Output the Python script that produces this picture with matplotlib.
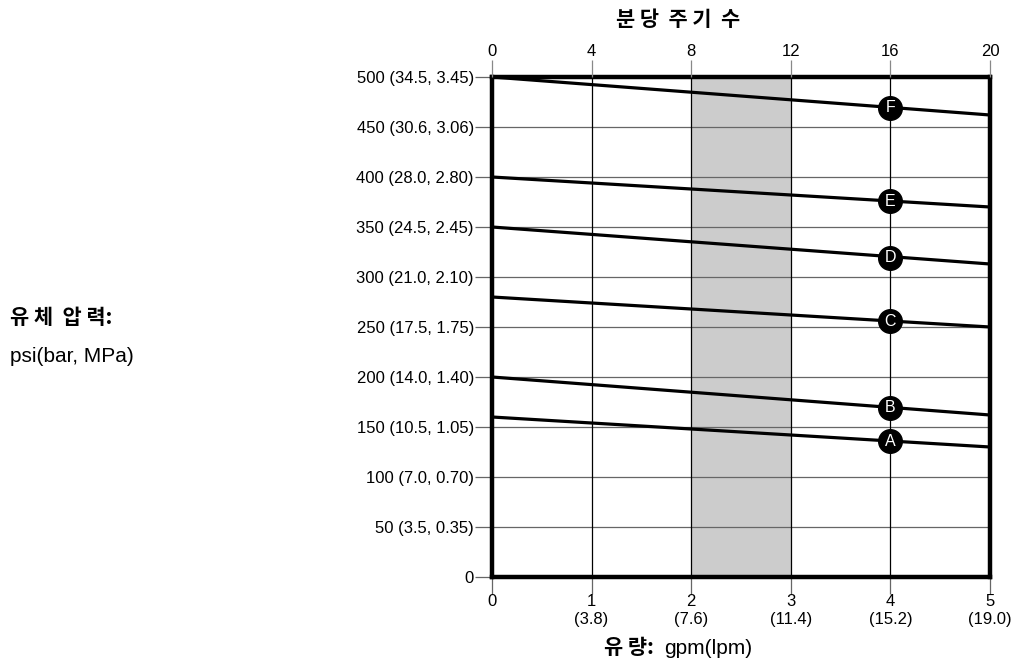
import matplotlib
matplotlib.use("Agg")
import matplotlib.pyplot as plt
import numpy as np

# Data
series_names = ["A", "B", "C", "D", "E", "F"]
line_x = [0, 5]
line_A = [160, 130]
line_B = [200, 162]
line_C = [280, 250]
line_D = [350, 313]
line_E = [400, 370]
line_F = [500, 462]
marker_x = 4
marker_y = [136, 169, 256, 319, 376, 469]

y_ticks = [0, 50, 100, 150, 200, 250, 300, 350, 400, 450, 500]
y_ticklabels = ["0", "50 (3.5, 0.35)", "100 (7.0, 0.70)", "150 (10.5, 1.05)",
                "200 (14.0, 1.40)", "250 (17.5, 1.75)", "300 (21.0, 2.10)",
                "350 (24.5, 2.45)", "400 (28.0, 2.80)", "450 (30.6, 3.06)",
                "500 (34.5, 3.45)"]
x_ticks = [0, 1, 2, 3, 4, 5]
x_ticklabels = ["0", "1\n(3.8)", "2\n(7.6)", "3\n(11.4)", "4\n(15.2)", "5\n(19.0)"]
top_ticklabels = ["0", "4", "8", "12", "16", "20"]
shade_range = [2, 3]

plt.rcParams['font.family'] = ['Liberation Sans', 'Noto Sans CJK KR', 'DejaVu Sans']
kfont = ['Noto Sans CJK KR', 'DejaVu Sans']

fig = plt.figure(figsize=(10.13, 6.68), dpi=100)
ax = fig.add_axes([492/1013, 1-577/668, (990-492)/1013, (577-77)/668])

ax.set_xlim(0, 5)
ax.set_ylim(0, 500)

ax.axvspan(shade_range[0], shade_range[1], color='#cccccc', zorder=0, lw=0)

for yv in y_ticks[1:-1]:
    ax.axhline(yv, color='#666666', lw=0.9, zorder=1)
for xv in x_ticks[1:-1]:
    ax.axvline(xv, color='black', lw=0.9, zorder=1)

lines = [line_A, line_B, line_C, line_D, line_E, line_F]
for name, ly, my in zip(series_names, lines, marker_y):
    ax.plot(line_x, ly, color='black', lw=2.3, zorder=3, solid_capstyle='butt')
    ax.plot([marker_x], [my], 'o', color='black', markersize=17, zorder=4)
    ax.text(marker_x, my, name, color='white', ha='center', va='center',
            fontsize=11.5, zorder=5)

for s in ax.spines.values():
    s.set_linewidth(3.2)
    s.set_color('black')

ax.set_yticks(y_ticks)
ax.set_yticklabels(y_ticklabels, fontsize=12)
ax.set_xticks(x_ticks)
ax.set_xticklabels(x_ticklabels, fontsize=12, linespacing=1.3)
ax.tick_params(axis='y', direction='out', length=12, width=0.9, color='#666666', pad=1)
ax.tick_params(axis='x', direction='out', length=12, width=0.9, color='#666666', pad=0)

ax2 = ax.twiny()
ax2.set_xlim(0, 5)
ax2.set_xticks(x_ticks)
ax2.set_xticklabels(top_ticklabels, fontsize=12)
ax2.tick_params(axis='x', direction='out', length=12, width=0.9, color='#888888', pad=1)
for s in ax2.spines.values():
    s.set_visible(False)

fig.text(678/1013, 1-19/668, "분 당  주 기  수", family=kfont, fontweight='bold',
         fontsize=15, ha='center', va='center')
fig.text(10/1013, 1-318/668, "유 체  압 력:", family=kfont, fontweight='bold',
         fontsize=15, ha='left', va='center')
fig.text(10/1013, 1-356/668, "psi(bar, MPa)", fontsize=15, ha='left', va='center')
fig.text(654/1013, 1-647/668, "유 량:", family=kfont, fontweight='bold',
         fontsize=15, ha='right', va='center')
fig.text(664/1013, 1-648/668, "gpm(lpm)", fontsize=15, ha='left', va='center')

fig.savefig("out.png", dpi=100)
